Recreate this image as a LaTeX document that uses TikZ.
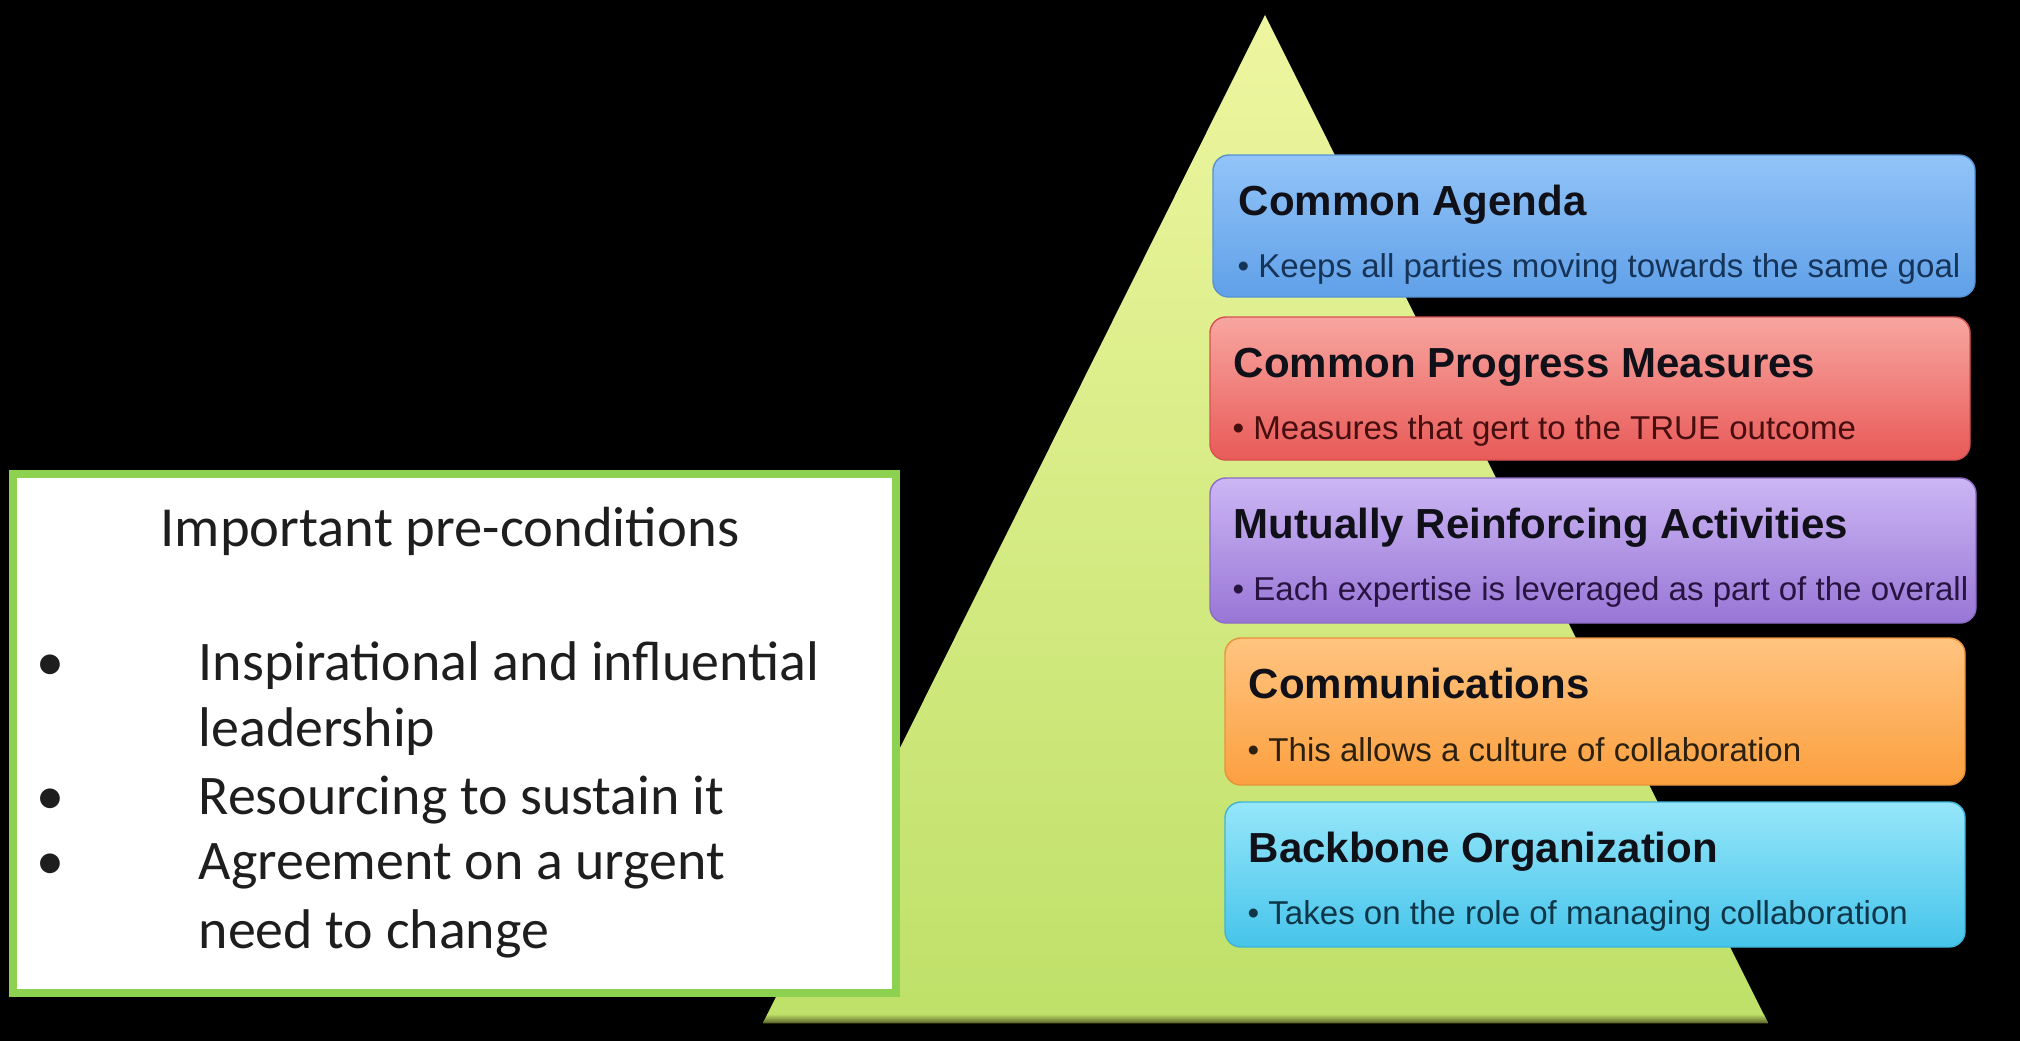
\documentclass[tikz,border=0pt]{standalone}
\usepackage{fontspec}
\setmainfont{Liberation Sans}
\newfontfamily\calibri{Carlito}
\definecolor{tritop}{RGB}{238,246,160}
\definecolor{tribot}{RGB}{190,224,104}
\definecolor{trishadow}{RGB}{90,100,40}
\definecolor{boxgreen}{RGB}{140,210,80}
\definecolor{bluetop}{RGB}{146,196,248}
\definecolor{bluebot}{RGB}{96,160,232}
\definecolor{redtop}{RGB}{248,166,160}
\definecolor{redbot}{RGB}{232,90,88}
\definecolor{purtop}{RGB}{204,182,244}
\definecolor{purbot}{RGB}{152,118,214}
\definecolor{orgtop}{RGB}{255,196,128}
\definecolor{orgbot}{RGB}{252,160,64}
\definecolor{cyntop}{RGB}{150,230,250}
\definecolor{cynbot}{RGB}{70,196,234}
\definecolor{hdrcol}{RGB}{16,16,24}
\definecolor{bluetxt}{RGB}{22,52,88}
\definecolor{redtxt}{RGB}{70,14,14}
\definecolor{purtxt}{RGB}{40,20,64}
\definecolor{orgtxt}{RGB}{44,32,14}
\definecolor{cyntxt}{RGB}{14,54,72}
\definecolor{bodytxt}{RGB}{30,30,30}
\begin{document}
\begin{tikzpicture}[x=0.01cm,y=-0.01cm,
  hdr/.style={anchor=base west, inner sep=0pt, text=hdrcol,
    font=\fontsize{11.95pt}{14pt}\selectfont\bfseries},
  subtxt/.style={anchor=base west, inner sep=0pt,
    font=\fontsize{9.4pt}{11pt}\selectfont},
  stagebox/.style={rounded corners=4.5pt, line width=0.4pt},
  leftline/.style={anchor=base west, inner sep=0pt, text=bodytxt,
    font=\calibri\fontsize{15.9pt}{19pt}\selectfont},
  bul/.style={anchor=base, inner sep=0pt, text=bodytxt,
    font=\calibri\fontsize{15.9pt}{19pt}\selectfont}]
% background
\fill[black] (0,0) rectangle (2020,1041);
\useasboundingbox (0,0) rectangle (2020,1041);
% pyramid
\shade[top color=tritop, bottom color=tribot] (1265,15) -- (1768,1023) -- (763,1023) -- cycle;
\shade[top color=tribot, bottom color=trishadow] (767.5,1014) -- (1763.5,1014) -- (1768,1023) -- (763,1023) -- cycle;
% stage boxes
\shade[stagebox, top color=bluetop, bottom color=bluebot, draw=bluebot!92!black] (1213,155) rectangle (1975,297);
\shade[stagebox, top color=redtop, bottom color=redbot, draw=redbot!92!black] (1210,317) rectangle (1970,460);
\shade[stagebox, top color=purtop, bottom color=purbot, draw=purbot!92!black] (1210,478) rectangle (1976,623);
\shade[stagebox, top color=orgtop, bottom color=orgbot, draw=orgbot!92!black] (1225,638) rectangle (1965,785);
\shade[stagebox, top color=cyntop, bottom color=cynbot, draw=cynbot!92!black] (1225,802) rectangle (1965,947);
% stage texts
\node (h1) [hdr] at (1238,215) {Common Agenda};
\node (s1) [subtxt, text=bluetxt] at (1237,277) {\textbullet\ Keeps all parties moving towards the same goal};
\node (h2) [hdr] at (1233,377) {Common Progress Measures};
\node (s2) [subtxt, text=redtxt] at (1232,439) {\textbullet\ Measures that gert to the TRUE outcome};
\node (h3) [hdr] at (1233,538) {Mutually Reinforcing Activities};
\node (s3) [subtxt, text=purtxt] at (1232,600) {\textbullet\ Each expertise is leveraged as part of the overall};
\node (h4) [hdr] at (1248,698) {Communications};
\node (s4) [subtxt, text=orgtxt] at (1247,761) {\textbullet\ This allows a culture of collaboration};
\node (h5) [hdr] at (1248,862) {Backbone Organization};
\node (s5) [subtxt, text=cyntxt] at (1247,924) {\textbullet\ Takes on the role of managing collaboration};
% left box
\fill[boxgreen] (9,470) rectangle (900,997);
\fill[white] (17,478) rectangle (892,989);
\node (title) [anchor=base, inner sep=0pt, text=bodytxt,
  font=\calibri\fontsize{16.1pt}{19pt}\selectfont] at (450,546) {Important pre-conditions};
\node (b1) [bul] at (50,680) {•};
\node (b2) [bul] at (50,814) {•};
\node (b3) [bul] at (50,879) {•};
\node (l1) [leftline] at (198,680) {Inspirational and influential};
\node (l2) [leftline] at (198,746) {leadership};
\node (l3) [leftline] at (198,814) {Resourcing to sustain it};
\node (l4) [leftline] at (198,879) {Agreement on a urgent};
\node (l5) [leftline] at (198,948) {need to change};
\end{tikzpicture}
\end{document}
